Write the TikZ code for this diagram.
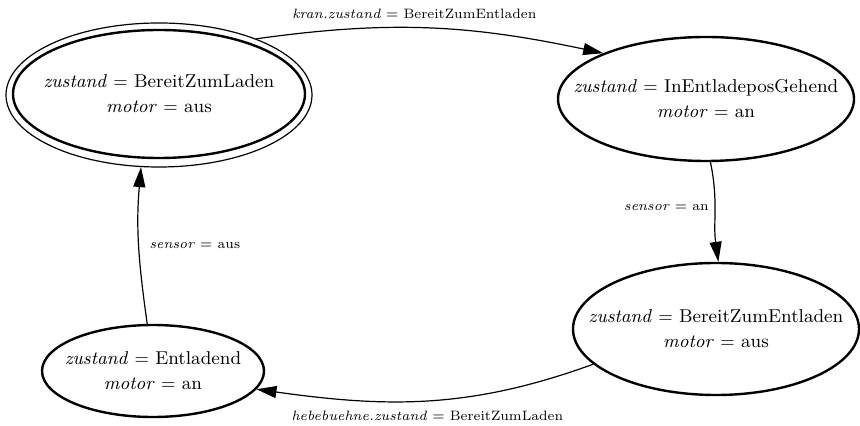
\documentclass[tikz,border=0pt]{standalone}
\usetikzlibrary{shapes.geometric,arrows.meta}
\begin{document}
\begin{tikzpicture}[x=0.5pt,y=-0.5pt,
  state/.style={ellipse, draw, line width=1.2pt, inner sep=0pt},
  statetext/.style={align=center, inner sep=0pt, font=\fontsize{9.3}{12.5}\selectfont},
  outerring/.style={ellipse, draw, line width=0.6pt, inner sep=0pt},
  edge/.style={line width=0.6pt, -{Triangle[length=10pt,width=6pt]}},
  lbl/.style={font=\fontsize{6.8}{8.5}\selectfont, inner sep=2pt}]
\useasboundingbox (0,0) rectangle (860,426);
\node[state, minimum width=146pt, minimum height=64pt] (A) at (159,94) {};
\node[statetext] (At) at (A.center) {\textit{zustand} $=$ BereitZumLaden\\ \textit{motor} $=$ aus};
\node[outerring, minimum width=153pt, minimum height=72pt] (Aout) at (159,95) {};
\node[state, minimum width=148pt, minimum height=62pt] (B) at (706,99) {};
\node[statetext] (Bt) at (B.center) {\textit{zustand} $=$ InEntladeposGehend\\ \textit{motor} $=$ an};
\node[state, minimum width=143pt, minimum height=66pt] (C) at (716,329) {};
\node[statetext] (Ct) at (C.center) {\textit{zustand} $=$ BereitZumEntladen\\ \textit{motor} $=$ aus};
\node[state, minimum width=111pt, minimum height=46pt] (D) at (153,371) {};
\node[statetext] (Dt) at (D.center) {\textit{zustand} $=$ Entladend\\ \textit{motor} $=$ an};
\draw[edge] (Aout.30) to[out=8, in=168]
  node[lbl, pos=0.45, above=2.5pt] (l1) {\textit{kran.zustand} $=$ BereitZumEntladen} (B.156);
\draw[edge] (B.-86) to[out=-78, in=98]
  node[lbl, pos=0.45, left=1pt] (l2) {\textit{sensor} $=$ an} (C.88);
\draw[edge] (C.196) to[out=200, in=-8]
  node[lbl, pos=0.5, below=3pt] (l3) {\textit{hebebuehne.zustand} $=$ BereitZumLaden} (D.-10);
\draw[edge] (D.97) to[out=98, in=-95]
  node[lbl, pos=0.5, right=3pt] (l4) {\textit{sensor} $=$ aus} (Aout.256);
\end{tikzpicture}
\end{document}
